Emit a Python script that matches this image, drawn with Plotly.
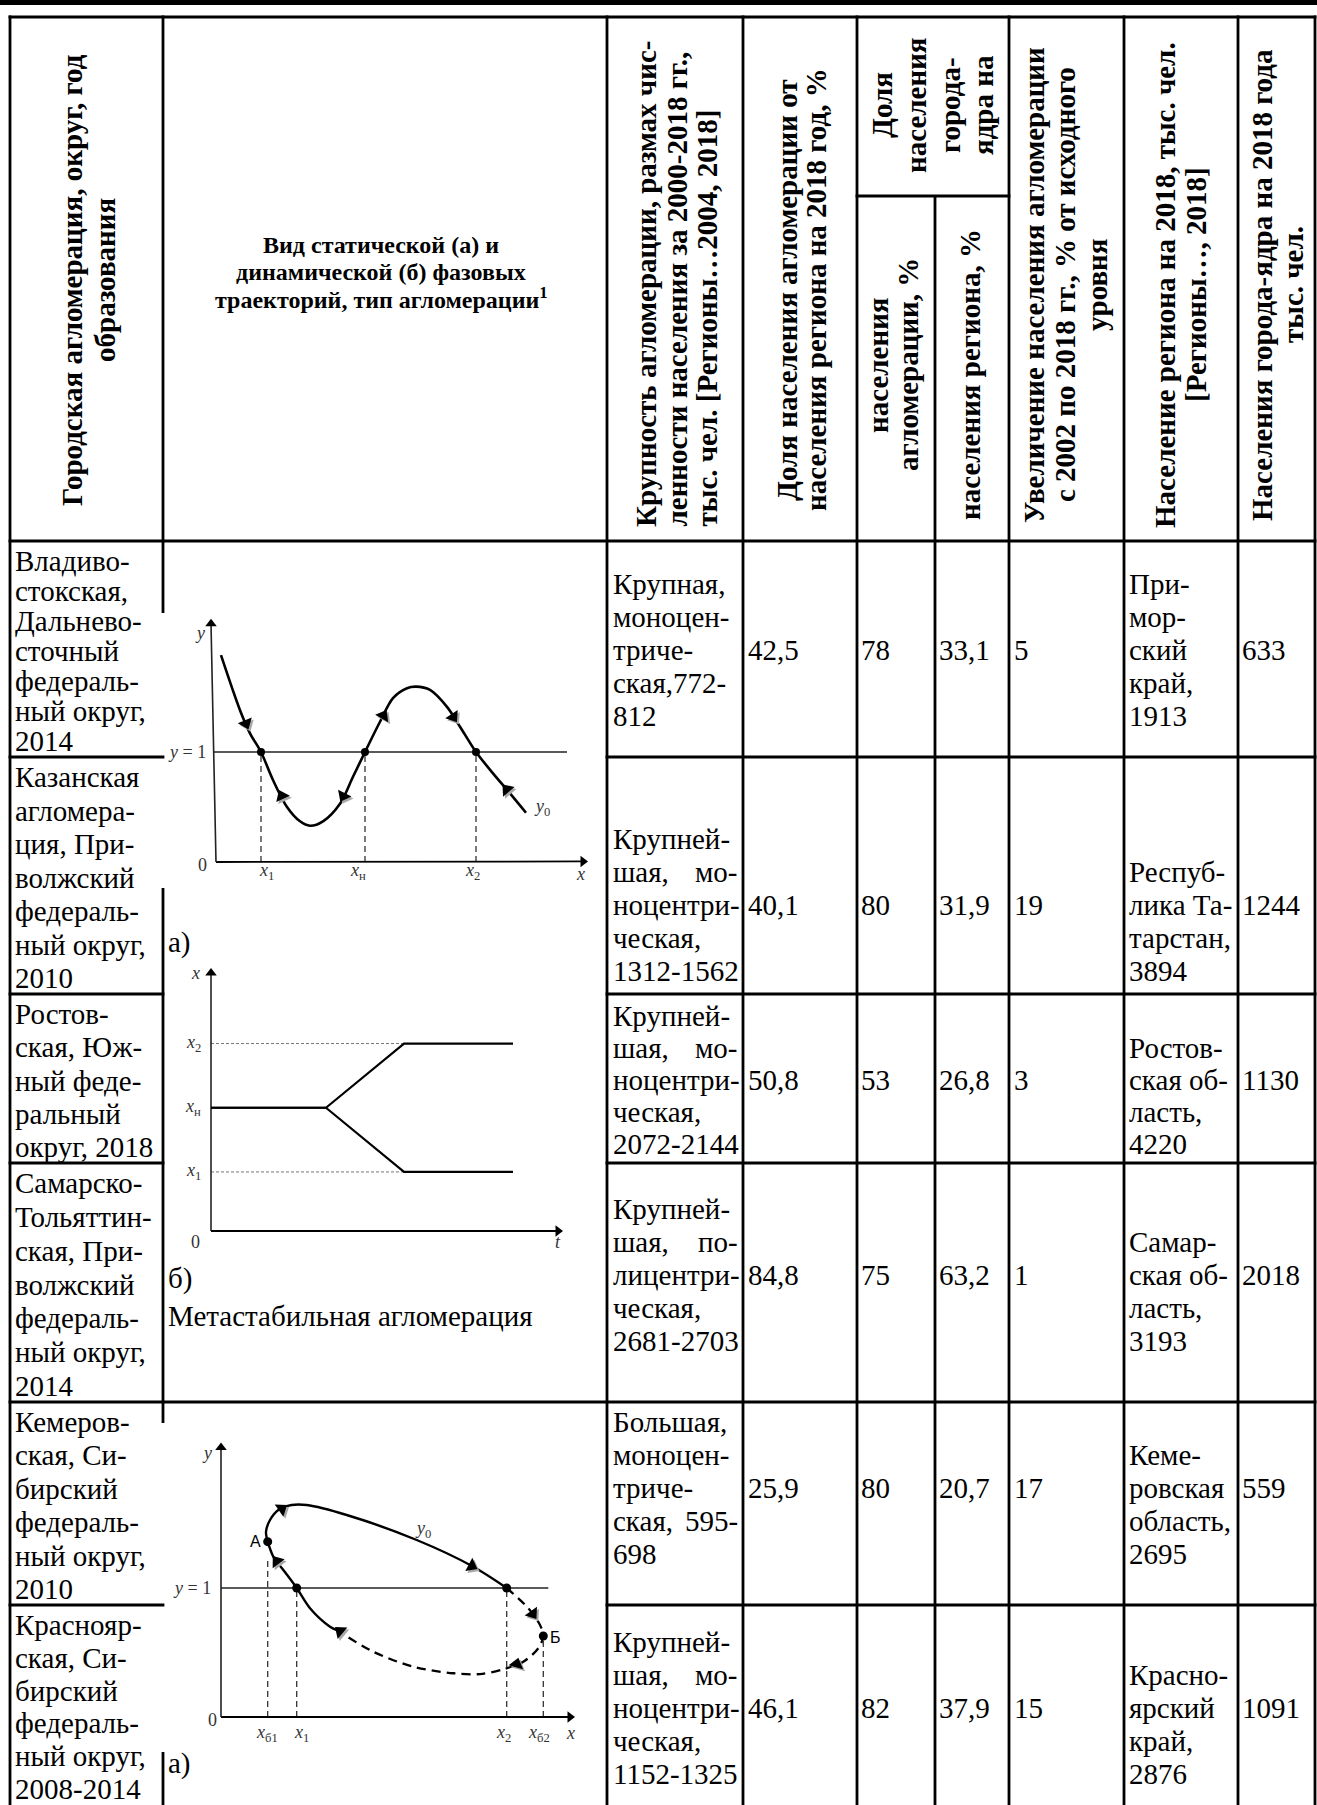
import plotly.graph_objects as go

W, H = 1317, 1805
SERIF = "Liberation Serif"
SANS = "Liberation Sans"
FS = 29          # body text size
HS = 29          # rotated header text size
HS_WIDE = 24     # horizontal header text size
LW = 2.8         # table rule width
INK = "black"
LBL = "#333333"  # colour of the labels inside the phase diagrams
TAG = 18         # size of the labels inside the phase diagrams

# ---------------- table content ----------------
agglomerations = [
    ["Владиво-", "стокская,", "Дальнево-", "сточный", "федераль-", "ный округ,", "2014"],
    ["Казанская", "агломера-", "ция, При-", "волжский", "федераль-", "ный округ,", "2010"],
    ["Ростов-", "ская, Юж-", "ный феде-", "ральный", "округ, 2018"],
    ["Самарско-", "Тольяттин-", "ская, При-", "волжский", "федераль-", "ный округ,", "2014"],
    ["Кемеров-", "ская, Си-", "бирский", "федераль-", "ный округ,", "2010"],
    ["Краснояр-", "ская, Си-", "бирский", "федераль-", "ный округ,", "2008-2014"],
]
size_class = [
    ["Крупная,", "моноцен-", "триче-", "ская,772-", "812"],
    ["Крупней-", "шая, мо-", "ноцентри-", "ческая,", "1312-1562"],
    ["Крупней-", "шая, мо-", "ноцентри-", "ческая,", "2072-2144"],
    ["Крупней-", "шая, по-", "лицентри-", "ческая,", "2681-2703"],
    ["Большая,", "моноцен-", "триче-", "ская, 595-", "698"],
    ["Крупней-", "шая, мо-", "ноцентри-", "ческая,", "1152-1325"],
]
share_in_region = [42.5, 40.1, 50.8, 84.8, 25.9, 46.1]
core_share_agglo = [78, 80, 53, 75, 80, 82]
core_share_region = [33.1, 31.9, 26.8, 63.2, 20.7, 37.9]
growth_since_2002 = [5, 19, 3, 1, 17, 15]
regions = [
    ["При-", "мор-", "ский", "край,", "1913"],
    ["Респуб-", "лика Та-", "тарстан,", "3894"],
    ["Ростов-", "ская об-", "ласть,", "4220"],
    ["Самар-", "ская об-", "ласть,", "3193"],
    ["Кеме-", "ровская", "область,", "2695"],
    ["Красно-", "ярский", "край,", "2876"],
]
core_population = [633, 1244, 1130, 2018, 559, 1091]

header_agglo = ["Городская агломерация, округ, год", "образования"]
header_diagram = ["Вид статической (а) и", "динамической (б) фазовых",
                  "траекторий, тип агломерации<sup>1</sup>"]
header_size = ["Крупность агломерации, размах чис-",
               "ленности населения за 2000-2018 гг.,",
               "тыс. чел. [Регионы…2004, 2018]"]
header_share = ["Доля населения агломерации от", "населения региона на 2018 год, %"]
header_core = ["Доля", "населения", "города-", "ядра на"]
header_core_agglo = ["населения", "агломерации, %"]
header_core_region = ["населения региона, %"]
header_growth = ["Увеличение населения агломерации",
                 "с 2002 по 2018 гг., % от исходного", "уровня"]
header_region = ["Население региона на 2018, тыс. чел.", "[Регионы…, 2018]"]
header_core_pop = ["Населения города-ядра на 2018 года", "тыс. чел."]

# ---------------- static phase trajectory, metastable agglomeration ----------------
meta_x = [0.05, 0.24, 0.34, 0.45, 0.57, 0.71, 0.84, 0.94, 1.07, 1.24, 1.37, 1.49,
          1.64, 1.77, 1.91, 2.00, 2.14, 2.31, 2.44, 2.60, 2.77, 2.94, 3.10]
meta_y = [1.88, 1.38, 1.17, 1.00, 0.745, 0.50, 0.37, 0.33, 0.37, 0.53, 0.775, 1.00,
          1.275, 1.49, 1.58, 1.594, 1.564, 1.41, 1.23, 1.00, 0.806, 0.624, 0.448]
meta_roots = [0.45, 1.49, 2.60]
meta_root_labels = ["<i>x</i><sub>1</sub>", "<i>x</i><sub>н</sub>", "<i>x</i><sub>2</sub>"]
meta_root_label_x = [0.50, 1.42, 2.56]
meta_arrow_x = [0.30, 0.657, 1.273, 1.673, 2.373, 2.907]
meta_arrow_y = [1.26, 0.60, 0.60, 1.33, 1.32, 0.66]
meta_arrow_angle = [158, -25, 207, 30, 146, -40]

# ---------------- dynamic trajectory (bifurcation in time) ----------------
dyn_t = [0.0, 1.15, 1.93, 3.02]
dyn_upper = [0.96, 0.96, 1.46, 1.46]
dyn_lower = [0.96, 0.96, 0.46, 0.46]
dyn_levels = [0.46, 0.96, 1.46]
dyn_level_labels = ["<i>x</i><sub>1</sub>", "<i>x</i><sub>н</sub>", "<i>x</i><sub>2</sub>"]

# ---------------- hysteresis loop ----------------
loop_upper_x = [0.467, 0.45, 0.49, 0.573, 0.707, 0.857, 1.257, 1.957, 2.523, 2.857]
loop_upper_y = [1.359, 1.436, 1.527, 1.605, 1.643, 1.643, 1.566, 1.372, 1.165, 1.0]
loop_dash_x = [2.857, 3.073, 3.19, 3.223, 3.173, 3.023, 2.823, 2.59, 2.323, 1.923, 1.523, 1.157]
loop_dash_y = [1.0, 0.843, 0.713, 0.628, 0.533, 0.429, 0.37, 0.333, 0.339, 0.39, 0.506, 0.674]
loop_lower_x = [1.157, 1.09, 0.89, 0.757, 0.623, 0.523, 0.467]
loop_lower_y = [0.674, 0.70, 0.843, 1.0, 1.14, 1.243, 1.359]
loop_points_x = [0.467, 0.757, 2.857, 3.223]
loop_points_y = [1.359, 1.0, 1.0, 0.628]
loop_drop_x = [0.467, 0.757, 2.857, 3.223]
loop_drop_top = [1.24, 1.0, 1.0, 0.60]
loop_tick_labels = ["<i>x</i><sub>б1</sub>", "<i>x</i><sub>1</sub>", "<i>x</i><sub>2</sub>",
                    "<i>x</i><sub>б2</sub>", "<i>x</i>"]
loop_tick_x = [0.457, 0.80, 2.82, 3.18, 3.49]
loop_arrow_x = [0.607, 0.557, 2.507, 3.117, 2.957, 1.19]
loop_arrow_y = [1.615, 1.208, 1.171, 0.80, 0.41, 0.665]
loop_arrow_angle = [55, -37, 118, 145, 15, 310]

# ---------------- table geometry (px) ----------------
COL_X = [10, 163, 607, 743, 857, 935, 1009, 1124, 1238, 1315]
TABLE_TOP = 17
SUB_Y = 196
HEAD_Y = 541
ROW_Y = [541, 757, 994, 1163, 1402, 1605, 1805]
SPLIT_Y = 1402                      # the diagram cell is split here
MID_Y = [650, 905, 1080, 1275, 1488, 1708]
PITCH = [33, 33, 32, 33, 33, 33]

fig = go.Figure()
shapes, notes = [], []
half = LW / 2


def seg(x0, y0, x1, y1, w=LW):
    shapes.append(dict(type="line", xref="x", yref="y", x0=x0, y0=y0, x1=x1, y1=y1,
                       line=dict(color=INK, width=w)))


def label(x, y, text, size=FS, xanchor="left", yanchor="middle", angle=0, bold=False,
          color=INK, family=SERIF):
    notes.append(dict(x=x, y=y, xref="x", yref="y",
                      text=f"<b>{text}</b>" if bold else text, showarrow=False,
                      xanchor=xanchor, yanchor=yanchor, textangle=angle, borderpad=0,
                      font=dict(family=family, size=size, color=color)))


# heavy rule above the table
shapes.append(dict(type="rect", xref="x", yref="y", x0=0, x1=W, y0=0, y1=5,
                   fillcolor=INK, line=dict(width=0)))

left, right = COL_X[0], COL_X[-1]
seg(left - half, TABLE_TOP, right + half, TABLE_TOP)
seg(COL_X[4] - half, SUB_Y, COL_X[6] + half, SUB_Y)
seg(left - half, HEAD_Y, right + half, HEAD_Y)
for y in ROW_Y[1:-1]:
    if y == SPLIT_Y:
        seg(left - half, y, right + half, y)
    else:
        seg(left - half, y, COL_X[1] + half, y)
        seg(COL_X[2] - half, y, right + half, y)

for x in COL_X:
    if x == COL_X[1]:
        # the phase diagrams sit over parts of this rule
        for y0, y1 in [(TABLE_TOP - half, 613), (888, 1423), (1752, H)]:
            seg(x, y0, x, y1)
    elif x == COL_X[5]:
        seg(x, SUB_Y, x, H)
    else:
        seg(x, TABLE_TOP - half, x, H)

# ---------------- header ----------------
for ln, x in zip(header_agglo, [72, 105]):
    label(x, 280, ln, size=HS, angle=-90, xanchor="center", bold=True)
for ln, y in zip(header_diagram, [245, 272, 298]):
    label(381, y, ln, size=HS_WIDE, xanchor="center", bold=True)
for ln, x in zip(header_size, [646, 676, 706]):
    label(x, 528, ln, size=HS, angle=-90, xanchor="center", yanchor="bottom", bold=True)
for ln, x in zip(header_share, [787, 816]):
    label(x, 290, ln, size=HS, angle=-90, xanchor="center", bold=True)
for ln, x in zip(header_core, [882, 916, 950, 983]):
    label(x, 105, ln, size=HS, angle=-90, xanchor="center", bold=True)
for ln, x in zip(header_core_agglo, [878, 908]):
    label(x, 365, ln, size=HS, angle=-90, xanchor="center", bold=True)
for ln, x in zip(header_core_region, [970]):
    label(x, 375, ln, size=HS, angle=-90, xanchor="center", bold=True)
for ln, x in zip(header_growth, [1034, 1065, 1097]):
    label(x, 285, ln, size=HS, angle=-90, xanchor="center", bold=True)
for ln, x in zip(header_region, [1165, 1196]):
    label(x, 285, ln, size=HS, angle=-90, xanchor="center", bold=True)
for ln, x in zip(header_core_pop, [1262, 1293]):
    label(x, 285, ln, size=HS, angle=-90, xanchor="center", bold=True)

# ---------------- body ----------------
def comma(v):
    return f"{v:.1f}".replace(".", ",")


for r in range(len(agglomerations)):
    top, bot = ROW_Y[r], ROW_Y[r + 1]
    lines = agglomerations[r]
    first, last = top + 20, bot - 16
    step = (last - first) / (len(lines) - 1)
    for i, ln in enumerate(lines):
        label(14, first + i * step, ln)

    mid, p = MID_Y[r], PITCH[r]
    for i, ln in enumerate(size_class[r]):
        y = mid + (i - 2) * p
        if " " in ln and ln.endswith("-"):
            head, tail = ln.split(" ", 1)
            label(612, y, head)
            label(739, y, tail, xanchor="right")
        else:
            label(612, y, ln)

    label(747, mid, comma(share_in_region[r]))
    label(860, mid, str(core_share_agglo[r]))
    label(938, mid, comma(core_share_region[r]))
    label(1013, mid, str(growth_since_2002[r]))
    k = 2 if len(regions[r]) == 5 else 1
    for i, ln in enumerate(regions[r]):
        label(1128, mid + (i - k) * p, ln)
    label(1241, mid, str(core_population[r]))

# captions inside the diagram column
label(167, 942, "а)")
label(167, 1278, "б)")
label(167, 1316, "Метастабильная агломерация")
label(167, 1763, "а)")

# ---------------- phase diagrams ----------------
layout_axes = {}


class Diagram:
    """A small x/y subplot placed over a cell; units map to pixels by origin and scale."""

    def __init__(self, n, box, origin, scale):
        x0, y0, x1, y1 = box
        self.ox, self.oy = origin
        self.sx, self.sy = scale
        layout_axes[f"xaxis{n}"] = dict(domain=[x0 / W, x1 / W],
                                        range=[(x0 - self.ox) / self.sx, (x1 - self.ox) / self.sx],
                                        visible=False, fixedrange=True, anchor=f"y{n}")
        layout_axes[f"yaxis{n}"] = dict(domain=[1 - y1 / H, 1 - y0 / H],
                                        range=[(self.oy - y1) / self.sy, (self.oy - y0) / self.sy],
                                        visible=False, fixedrange=True, anchor=f"x{n}")
        self.xa, self.ya = f"x{n}", f"y{n}"

    def line(self, xs, ys, width=2.5, dash="solid", color=INK, shape="spline"):
        fig.add_trace(go.Scatter(x=xs, y=ys, mode="lines", xaxis=self.xa, yaxis=self.ya,
                                 line=dict(color=color, width=width, dash=dash, shape=shape,
                                           smoothing=0.9 if shape == "spline" else None),
                                 cliponaxis=False, hoverinfo="skip", showlegend=False))

    def dots(self, xs, ys, size=8):
        fig.add_trace(go.Scatter(x=xs, y=ys, mode="markers", xaxis=self.xa, yaxis=self.ya,
                                 marker=dict(color=INK, size=size), cliponaxis=False,
                                 hoverinfo="skip", showlegend=False))

    def arrows(self, xs, ys, angles, size=13):
        # soft grey shadow first, then the black arrow head
        dx, dy = 2.0 / self.sx, -2.0 / self.sy
        for colr, ox, oy in (("#a8a8a8", dx, dy), (INK, 0, 0)):
            fig.add_trace(go.Scatter(x=[v + ox for v in xs], y=[v + oy for v in ys],
                                     mode="markers", xaxis=self.xa, yaxis=self.ya,
                                     marker=dict(symbol="triangle-up", color=colr, size=size,
                                                 angle=angles, line=dict(width=0)),
                                     cliponaxis=False, hoverinfo="skip", showlegend=False))

    def axes(self, x_end, y_top, y_foot=0.0, x_lift=0.0):
        self.line([0, x_end], [0, x_lift], width=1.8, shape="linear")
        self.line([0, y_foot], [0, y_top], width=1.6, shape="linear", color="#222222")
        fig.add_trace(go.Scatter(x=[x_end, y_foot], y=[x_lift, y_top], mode="markers",
                                 xaxis=self.xa, yaxis=self.ya,
                                 marker=dict(symbol="triangle-up", size=10, color=INK,
                                             angle=[90, 0]),
                                 cliponaxis=False, hoverinfo="skip", showlegend=False))

    def tag(self, x, y, text, size=TAG, xanchor="center", family=SERIF, color=LBL):
        label(self.ox + x * self.sx, self.oy - y * self.sy, text, size=size,
              xanchor=xanchor, color=color, family=family)


# static trajectory
d1 = Diagram(2, (165, 600, 605, 900), (216, 862), (100, 110))
d1.line([-0.02, 3.51], [1, 1], width=1.3, color="#222222", shape="linear")
for xr in meta_roots:
    d1.line([xr, xr], [0, 1], width=1.3, dash="6px,4px", color="#333333", shape="linear")
d1.axes(3.67, 2.165, y_foot=-0.05, x_lift=0.005)
d1.line(meta_x, meta_y, width=2.6)
d1.dots(meta_roots, [1] * len(meta_roots))
d1.arrows(meta_arrow_x, meta_arrow_y, meta_arrow_angle)
d1.tag(-0.16, 2.08, "<i>y</i>")
d1.tag(-0.085, -0.03, "0", xanchor="right")
d1.tag(-0.09, 1.0, "<i>y</i> = 1", xanchor="right")
for xl, txt in zip(meta_root_label_x, meta_root_labels):
    d1.tag(xl, -0.09, txt)
d1.tag(3.64, -0.11, "<i>x</i>")
d1.tag(3.26, 0.50, "<i>y</i><sub>0</sub>")

# dynamic trajectory
d2 = Diagram(3, (165, 950, 605, 1260), (211, 1231), (100, 128.4))
for lv in (dyn_levels[0], dyn_levels[2]):
    d2.line([0, dyn_t[2]], [lv, lv], width=1.0, dash="3px,2px", color="#777777",
            shape="linear")
d2.axes(3.47, 2.01)
d2.line(dyn_t, dyn_upper, width=2.2, shape="linear")
d2.line(dyn_t, dyn_lower, width=2.2, shape="linear")
d2.tag(-0.16, 2.01, "<i>x</i>")
for lv, txt in zip(dyn_levels, dyn_level_labels):
    d2.tag(-0.18, lv, txt)
d2.tag(-0.16, -0.086, "0")
d2.tag(3.47, -0.086, "<i>t</i>")

# hysteresis loop
d3 = Diagram(4, (165, 1420, 605, 1760), (221, 1717), (100, 129))
d3.line([0, 3.273], [1, 1], width=1.3, color="#222222", shape="linear")
for xd, yt in zip(loop_drop_x, loop_drop_top):
    d3.line([xd, xd], [0, yt], width=1.3, dash="6px,4px", color="#333333", shape="linear")
d3.axes(3.49, 2.09)
d3.line(loop_upper_x, loop_upper_y, width=2.4)
d3.line(loop_dash_x, loop_dash_y, width=2.3, dash="9px,6px")
d3.line(loop_lower_x, loop_lower_y, width=2.4)
d3.dots(loop_points_x, loop_points_y, size=9)
d3.arrows(loop_arrow_x, loop_arrow_y, loop_arrow_angle)
d3.tag(-0.14, 2.05, "<i>y</i>")
d3.tag(-0.09, 1.0, "<i>y</i> = 1", xanchor="right")
d3.tag(-0.03, -0.02, "0", xanchor="right")
d3.tag(0.34, 1.36, "А", size=16, family=SANS, color=INK)
d3.tag(3.34, 0.62, "Б", size=16, family=SANS, color=INK)
d3.tag(2.02, 1.455, "<i>y</i><sub>0</sub>")
for xl, txt in zip(loop_tick_x, loop_tick_labels):
    d3.tag(xl, -0.124, txt)

# invisible anchor for the pixel canvas
fig.add_trace(go.Scatter(x=[0], y=[0], mode="markers", marker=dict(opacity=0),
                         hoverinfo="skip", showlegend=False))

fig.update_layout(
    width=W, height=H, margin=dict(l=0, r=0, t=0, b=0, pad=0),
    paper_bgcolor="white", plot_bgcolor="rgba(0,0,0,0)", showlegend=False,
    xaxis=dict(domain=[0, 1], range=[0, W], visible=False, fixedrange=True),
    yaxis=dict(domain=[0, 1], range=[H, 0], visible=False, fixedrange=True),
    shapes=shapes, annotations=notes, font=dict(family=SERIF, color=INK),
    **layout_axes,
)

fig.write_html("out.html")
